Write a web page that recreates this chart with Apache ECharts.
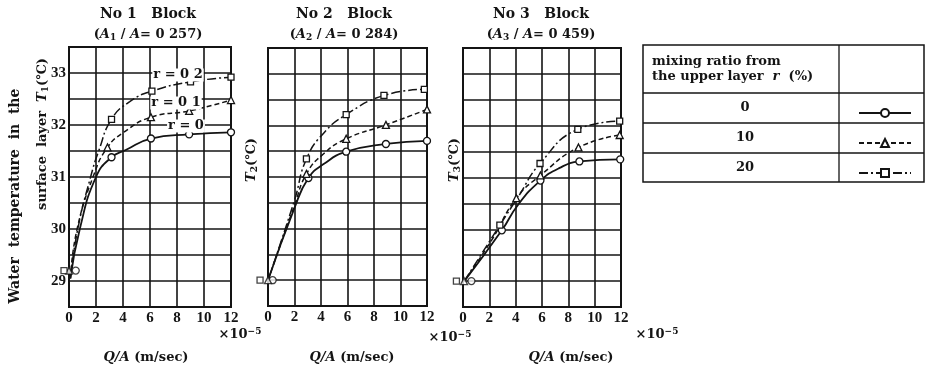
<!DOCTYPE html>
<html><head><meta charset="utf-8">
<script src="https://cdn.jsdelivr.net/npm/echarts@6/dist/echarts.min.js"></script>
<style>html,body{margin:0;padding:0;background:#fff}#c{width:925px;height:371px}</style>
</head><body><div id="c"></div>
<script>
// ---------- data (x in 1e-5 m/sec, y in °C) ----------
const ratioNames = ['0', '10', '20'];
const panelTitles = ['No 1   Block', 'No 2   Block', 'No 3   Block'];
const areaRatios = ['0 257', '0 284', '0 459'];

// Block 1: marked points and traced curve points
const b1r0Marks = [[3.15, 31.38], [6.07, 31.74], [8.9, 31.82], [12, 31.86]];
const b1r0Trace = [[0.1, 29.05], [0.8, 30.0], [2.0, 31.0], [4.2, 31.52]];
const b1r1Marks = [[2.85, 31.57], [6.07, 32.15], [8.9, 32.27], [12, 32.48]];
const b1r1Trace = [[0.1, 29.05], [0.6, 30.0], [1.85, 31.05], [4.0, 31.85]];
const b1r2Marks = [[3.15, 32.11], [6.14, 32.65], [9.0, 32.83], [12, 32.92]];
const b1r2Trace = [[0.1, 29.05], [0.65, 30.0], [1.6, 31.0], [2.2, 31.5], [4.5, 32.45]];
const b1Start = [[0.5, 29.2], [0.0, 29.2], [-0.37, 29.2]];

// Block 2
const b2r0Marks = [[3.05, 30.98], [5.9, 31.49], [8.9, 31.64], [12, 31.7]];
const b2r0Trace = [[0, 29.0], [2.0, 30.4], [4.2, 31.25]];
const b2r1Marks = [[2.9, 31.06], [5.9, 31.74], [8.9, 32.01], [12, 32.31]];
const b2r1Trace = [[0, 29.0], [2.0, 30.45], [4.2, 31.45]];
const b2r2Marks = [[2.9, 31.35], [5.9, 32.21], [8.75, 32.58], [11.8, 32.7]];
const b2r2Trace = [[0, 29.0], [2.0, 30.55], [4.2, 31.85]];
const b2Start = [[0.35, 29.0], [0.0, 29.0], [-0.6, 29.0]];

// Block 3
const b3r0Marks = [[2.95, 29.98], [5.88, 30.94], [8.84, 31.31], [11.94, 31.35]];
const b3r0Trace = [[0.1, 29.0], [4.2, 30.48], [7.3, 31.18]];
const b3r1Marks = [[4.05, 30.6], [5.88, 31.04], [8.77, 31.58], [11.9, 31.82]];
const b3r1Trace = [[0.1, 29.0], [2.2, 29.8]];
const b3r2Marks = [[2.8, 30.08], [5.85, 31.27], [8.72, 31.93], [11.9, 32.09]];
const b3r2Trace = [[0.1, 29.0], [4.2, 30.63]];
const b3Start = [[0.64, 29.0], [0.08, 29.0], [-0.5, 29.0]];

const yMin = 28.5, yMax = 33.5, yStep = 0.5;
const xMin = 0, xMax = 12, xStep = 2;

// ---------- build ----------
const blocks = [
  [[b1r0Trace, b1r0Marks], [b1r1Trace, b1r1Marks], [b1r2Trace, b1r2Marks], b1Start],
  [[b2r0Trace, b2r0Marks], [b2r1Trace, b2r1Marks], [b2r2Trace, b2r2Marks], b2Start],
  [[b3r0Trace, b3r0Marks], [b3r1Trace, b3r1Marks], [b3r2Trace, b3r2Marks], b3Start]
];
const symbols = ['circle', 'triangle', 'rect'];
const symSizes = [7, 7, 6];
const lineTypes = ['solid', [5, 3], [9, 3, 2, 3]];
const INK = '#141414';
const serif = 'DejaVu Serif';
const numFont = 'Liberation Serif';

const grids = [
  { left: 69, top: 47, width: 162, height: 260 },
  { left: 268, top: 48, width: 159, height: 258 },
  { left: 463, top: 48, width: 158, height: 259 }
].map(g => Object.assign({ show: true, borderColor: INK, borderWidth: 2, backgroundColor: 'transparent' }, g));

function merge(trace, marks) {
  const pts = trace.map(p => ({ value: p, symbol: 'none' }))
    .concat(marks.map(p => ({ value: p })));
  pts.sort((a, b) => a.value[0] - b.value[0]);
  return pts;
}

const xAxes = [], yAxes = [], series = [];
blocks.forEach((blk, i) => {
  xAxes.push({
    type: 'value', gridIndex: i, min: xMin, max: xMax, interval: xStep,
    axisLine: { show: false }, axisTick: { show: false },
    splitLine: { show: true, lineStyle: { color: INK, width: 1.6 } },
    axisLabel: { color: INK, fontFamily: numFont, fontWeight: 'bold', fontSize: 15, margin: 4 }
  });
  yAxes.push({
    type: 'value', gridIndex: i, min: yMin, max: yMax, interval: yStep,
    axisLine: { show: false }, axisTick: { show: false },
    splitLine: { show: true, lineStyle: { color: INK, width: 1.6 } },
    axisLabel: {
      show: i === 0, color: INK, fontFamily: numFont, fontWeight: 'bold', fontSize: 15, margin: 3,
      formatter: v => (Math.abs(v - Math.round(v)) < 1e-6 ? String(Math.round(v)) : '')
    }
  });
  for (let r = 0; r < 3; r++) {
    series.push({
      name: ratioNames[r], type: 'line', xAxisIndex: i, yAxisIndex: i,
      data: merge(blk[r][0], blk[r][1]), smooth: 0.5, clip: false,
      symbol: symbols[r], symbolSize: symSizes[r], showAllSymbol: true,
      lineStyle: { color: INK, width: r === 0 ? 1.8 : 1.5, type: lineTypes[r] },
      itemStyle: { color: '#fff', borderColor: INK, borderWidth: 1.3 },
      emphasis: { disabled: true }, animation: false, z: 3
    });
    series.push({
      name: 'start' + r, type: 'scatter', xAxisIndex: i, yAxisIndex: i,
      data: [blk[3][r]], symbol: symbols[r], symbolSize: symSizes[r], clip: false,
      itemStyle: { color: '#fff', borderColor: INK, borderWidth: 1.3 },
      animation: false, z: 4
    });
  }
});

const rich = {
  b: { fontFamily: serif, fontWeight: 'bold', fontSize: 13, fill: INK, color: INK },
  big: { fontFamily: serif, fontWeight: 'bold', fontSize: 14, fill: INK, color: INK },
  i: { fontFamily: serif, fontStyle: 'italic', fontWeight: 'bold', fontSize: 13, fill: INK, color: INK },
  sub: { fontFamily: serif, fontWeight: 'bold', fontSize: 9, fill: INK, color: INK, verticalAlign: 'bottom', padding: [6, 0, 0, 0] },
  sup: { fontFamily: serif, fontWeight: 'bold', fontSize: 9, fill: INK, color: INK, verticalAlign: 'top', padding: [0, 0, 6, 0] }
};
function txt(x, y, text, opts) {
  return Object.assign({
    type: 'text', x: x, y: y, z: 10,
    style: { text: text, rich: rich, align: 'center', verticalAlign: 'middle', fill: INK,
      font: 'bold 13px "DejaVu Serif"' }
  }, opts || {});
}

const graphics = [];
const titleX = [148, 344, 541];
titleX.forEach((cx, i) => {
  graphics.push(txt(cx, 14, '{big|' + panelTitles[i] + '}'));
  graphics.push(txt(cx, 35, '{b|(}{i|A}{sub|' + (i + 1) + '}{b| / }{i|A}{b|= ' + areaRatios[i] + ')}'));
});
// axis titles
graphics.push(txt(15, 196, '{big|Water  temperature  in  the}', { rotation: Math.PI / 2 }));
graphics.push(txt(43, 134, '{b|surface  layer  }{i|T}{sub|1}{b|(℃)}', { rotation: Math.PI / 2 }));
graphics.push(txt(252, 160, '{i|T}{sub|2}{b|(℃)}', { rotation: Math.PI / 2 }));
graphics.push(txt(455, 160, '{i|T}{sub|3}{b|(℃)}', { rotation: Math.PI / 2 }));
// x titles and multipliers
[146, 352, 571].forEach(cx => graphics.push(txt(cx, 358, '{i|Q/A} {b|(m/sec)}')));
[[240, 335], [450, 338], [657, 335]].forEach(p =>
  graphics.push(txt(p[0], p[1], '{b|×10}{sup|−5}')));
// curve labels in block 1
[[178, 75, '{b|r = 0 2}'], [176, 103, '{b|r = 0 1}'], [186, 126, '{b|r = 0}']].forEach(p =>
  graphics.push(txt(p[0], p[1], p[2], { style: { text: p[2], rich: rich, align: 'center', verticalAlign: 'middle', backgroundColor: '#fff', padding: [0, 1] } })));
// legend table
graphics.push({ type: 'rect', z: 1, shape: { x: 643, y: 45, width: 281, height: 137 }, style: { fill: 'none', stroke: INK, lineWidth: 1.5 } });
graphics.push({ type: 'line', z: 1, shape: { x1: 839, y1: 45, x2: 839, y2: 182 }, style: { stroke: INK, lineWidth: 1.3 } });
[93, 123, 153].forEach(y => graphics.push({ type: 'line', z: 1, shape: { x1: 643, y1: y, x2: 924, y2: y }, style: { stroke: INK, lineWidth: 1.3 } }));
graphics.push(txt(652, 62, '', { style: { text: '{b|mixing ratio from}', rich: rich, align: 'left', verticalAlign: 'middle' } }));
graphics.push(txt(652, 77, '', { style: { text: '{b|the upper layer  }{i|r}{b|  (%)}', rich: rich, align: 'left', verticalAlign: 'middle' } }));
[[108, '0'], [138, '10'], [168, '20']].forEach(p => graphics.push(txt(745, p[0], '{b|' + p[1] + '}')));

const option = {
  backgroundColor: '#fff',
  animation: false,
  grid: grids,
  xAxis: xAxes,
  yAxis: yAxes,
  series: series,
  legend: {
    data: ratioNames, orient: 'vertical', left: 853, top: 103,
    itemWidth: 52, itemHeight: 10, itemGap: 20,
    formatter: () => '', selectedMode: false,
    textStyle: { fontSize: 1 }
  },
  graphic: graphics
};
const chart = echarts.init(document.getElementById('c'), null, { renderer: 'canvas' });
chart.setOption(option);
</script>
</body></html>
